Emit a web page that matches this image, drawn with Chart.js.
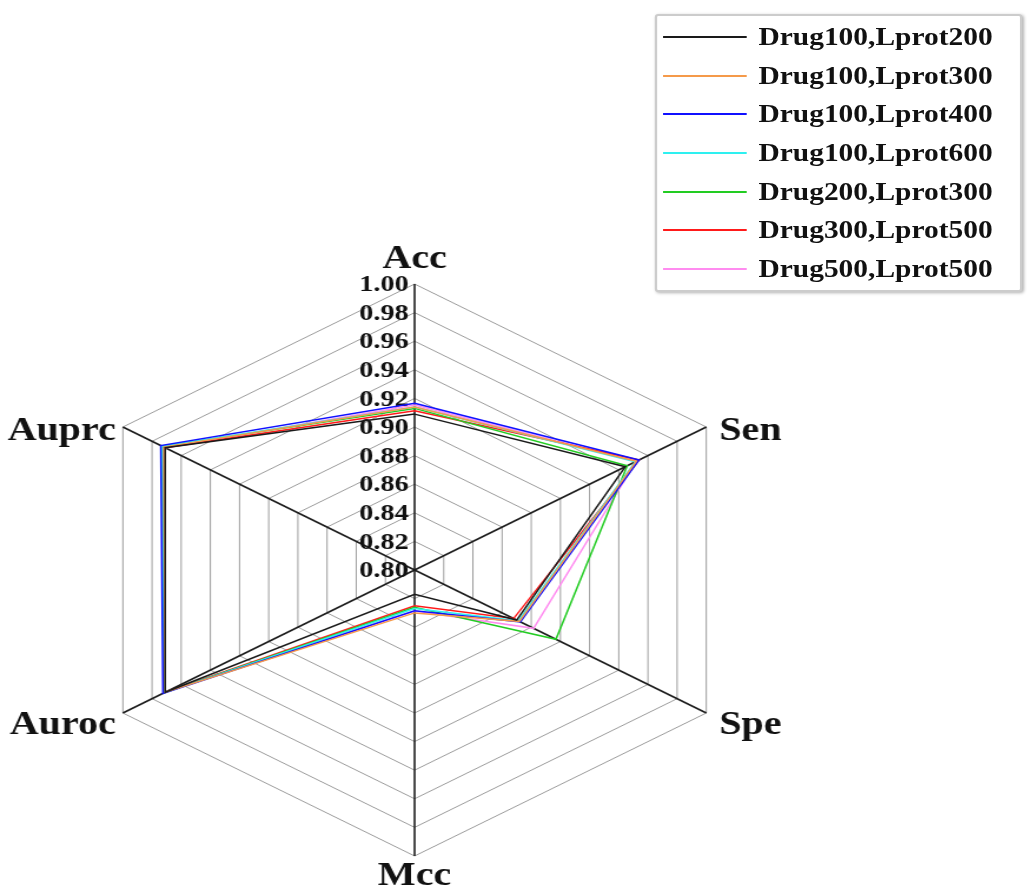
<!DOCTYPE html>
<html>
<head>
<meta charset="utf-8">
<script src="https://cdn.jsdelivr.net/npm/chart.js@4.4.1/dist/chart.umd.min.js"></script>
<style>
  html, body { margin: 0; padding: 0; background: #fff; overflow: hidden; }
  #stage { position: absolute; left: 0; top: 0; width: 872px; height: 888px;
           transform-origin: 0 0; transform: scaleX(1.17775); }
  #c { position: absolute; left: 0; top: 0; }
  #legend { position: absolute; left: 556px; top: 14px; width: 308px; height: 274px;
            border: 2px solid #cccccc; border-radius: 3px; background: #fff;
            box-shadow: 1px 1px 3px rgba(0,0,0,0.3);
            font: bold 25px "Liberation Serif", "Times New Roman", serif; color: #111; }
  .row { position: absolute; left: 0; width: 100%; height: 30px; }
  .row .ln { position: absolute; left: 5px; top: 14px; width: 71px; height: 2px; }
  .row .tx { position: absolute; left: 86px; top: 0; line-height: 30px; white-space: nowrap; }
</style>
</head>
<body>
<div id="stage">
  <canvas id="c" width="872" height="888"></canvas>
  <div id="legend"></div>
</div>
<script>
// Metric axes, clockwise from the top
const metrics = ['Acc', 'Sen', 'Spe', 'Mcc', 'Auroc', 'Auprc'];

// Radial scale range and tick step
const scaleMin = 0.80;
const scaleMax = 1.00;
const scaleStep = 0.02;

// Parameter settings compared
const seriesNames = [
  'Drug100,Lprot200',
  'Drug100,Lprot300',
  'Drug100,Lprot400',
  'Drug100,Lprot600',
  'Drug200,Lprot300',
  'Drug300,Lprot500',
  'Drug500,Lprot500'
];

// Scores per setting, in metric order
const d100p200 = [0.909, 0.9445, 0.870, 0.817, 0.971, 0.971];
const d100p300 = [0.914, 0.952, 0.8718, 0.830, 0.971, 0.972];
const d100p400 = [0.9166, 0.9539, 0.8725, 0.8285, 0.9725, 0.974];
const d100p600 = [0.914, 0.9513, 0.8711, 0.827, 0.972, 0.973];
const d200p300 = [0.913, 0.9458, 0.8969, 0.826, 0.972, 0.973];
const d300p500 = [0.9114, 0.9539, 0.8679, 0.825, 0.971, 0.971];
const d500p500 = [0.9154, 0.952, 0.8816, 0.8287, 0.971, 0.971];

const seriesValues = [d100p200, d100p300, d100p400, d100p600, d200p300, d300p500, d500p500];
const seriesColors = ['#1a1a1a', '#f59a4a', '#1010ff', '#2ef0f0', '#22cc22', '#ff1a1a', '#ff8cf0'];

const serif = '"Liberation Serif", "Times New Roman", serif';

// Tick values down the top axis, and the metric names around the rim
const radarText = {
  id: 'radarText',
  beforeDatasetsDraw(chart) {
    const s = chart.scales.r;
    const ctx = chart.ctx;
    ctx.save();
    ctx.fillStyle = '#111';
    ctx.font = 'bold 24px ' + serif;
    ctx.textAlign = 'right';
    ctx.textBaseline = 'middle';
    s.ticks.forEach(t => {
      const d = s.getDistanceFromCenterForValue(t.value);
      ctx.fillText(t.value.toFixed(2), s.xCenter - 5, s.yCenter - d + 1);
    });
    ctx.restore();
  },
  afterDraw(chart) {
    const s = chart.scales.r;
    const ctx = chart.ctx;
    const R = s.drawingArea;
    ctx.save();
    ctx.fillStyle = '#111';
    ctx.font = 'bold 34px ' + serif;
    ctx.textBaseline = 'alphabetic';
    metrics.forEach((m, i) => {
      const p = s.getPointPosition(i, R);
      let x = p.x, y = p.y;
      if (i === 0) { ctx.textAlign = 'center'; y -= 16; }
      else if (i === 3) { ctx.textAlign = 'center'; y += 29; }
      else if (i === 1 || i === 2) { ctx.textAlign = 'left'; x += 11; y += (i === 1 ? 13 : 21); }
      else { ctx.textAlign = 'right'; x -= 6; y += (i === 5 ? 13 : 21); }
      ctx.fillText(m, x, y);
    });
    ctx.restore();
  }
};

const datasets = seriesNames.map((name, i) => ({
  label: name,
  data: seriesValues[i],
  borderColor: seriesColors[i],
  backgroundColor: 'rgba(0,0,0,0)',
  borderWidth: 1.5,
  fill: false,
  pointRadius: 0,
  pointHoverRadius: 0,
  tension: 0
}));

const chart = new Chart(document.getElementById('c'), {
  type: 'radar',
  data: { labels: metrics, datasets },
  options: {
    responsive: false,
    animation: false,
    devicePixelRatio: 1,
    layout: { padding: { left: 66, right: 234, top: 284, bottom: 32 } },
    plugins: { legend: { display: false }, tooltip: { enabled: false } },
    scales: {
      r: {
        min: scaleMin,
        max: scaleMax,
        ticks: { stepSize: scaleStep, display: false },
        pointLabels: { display: false },
        grid: { color: '#9c9c9c', lineWidth: 1 },
        angleLines: { color: '#1c1c1c', lineWidth: 1.6 }
      }
    }
  },
  plugins: [radarText]
});

// Legend rows built from the chart's datasets
const legendBox = document.getElementById('legend');
chart.data.datasets.forEach((ds, i) => {
  const row = document.createElement('div');
  row.className = 'row';
  row.style.top = (6 + i * 38.67) + 'px';
  const ln = document.createElement('div');
  ln.className = 'ln';
  ln.style.background = ds.borderColor;
  const tx = document.createElement('div');
  tx.className = 'tx';
  tx.textContent = ds.label;
  row.appendChild(ln);
  row.appendChild(tx);
  legendBox.appendChild(row);
});
</script>
</body>
</html>
